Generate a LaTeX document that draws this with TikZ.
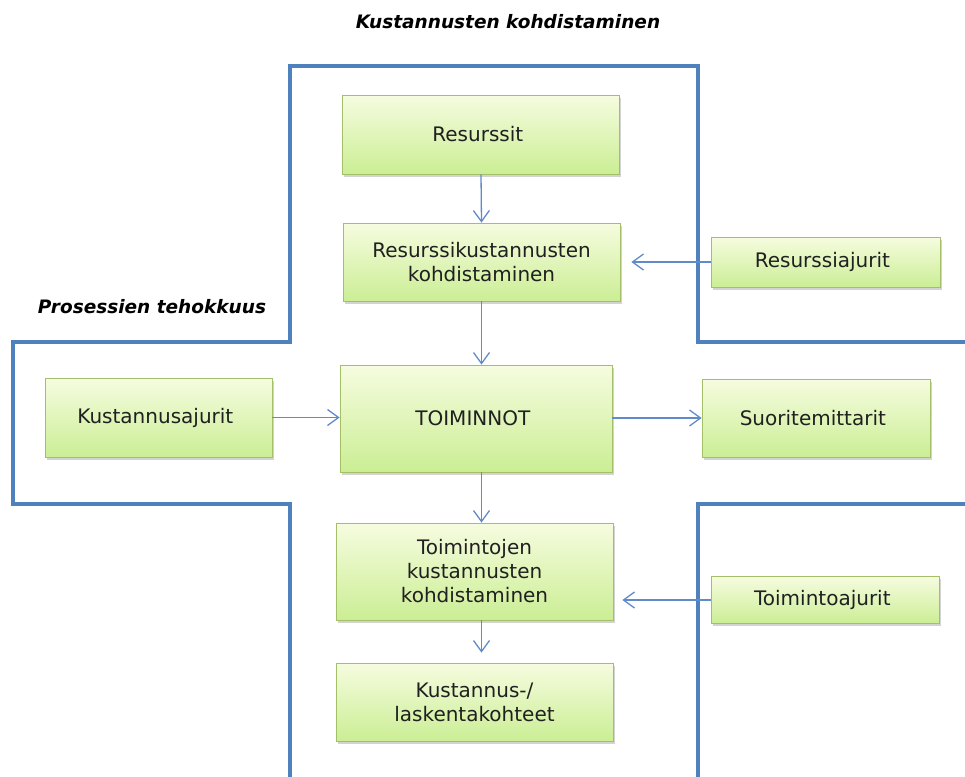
\documentclass[tikz,border=0pt]{standalone}
\usepackage{fontspec}
\setmainfont{DejaVu Sans}
\usetikzlibrary{arrows.meta,shadows}

\definecolor{frameblue}{HTML}{4F81BD}
\definecolor{arrowblue}{HTML}{5F8BC8}
\definecolor{boxtop}{HTML}{F6FCE0}
\definecolor{boxbottom}{HTML}{CBEE94}
\definecolor{boxedge}{HTML}{A3BF68}
\definecolor{boxtext}{HTML}{202020}

\tikzset{
  box/.style={draw=boxedge, line width=0.8pt, top color=boxtop, bottom color=boxbottom,
    text=boxtext, align=center, inner sep=2pt, font=\fontsize{20}{24}\selectfont,
    drop shadow={shadow xshift=1.5pt, shadow yshift=-2.5pt, opacity=0.35}},
  feed/.style={draw=arrowblue, line width=1.3pt,
    -{Straight Barb[length=11pt,width=16pt,line width=1.3pt]}},
  frame/.style={draw=frameblue, line width=3.6pt},
  heading/.style={font=\fontsize{18.5}{22}\selectfont\bfseries\itshape, text=black}
}

\begin{document}
\begin{tikzpicture}[x=1pt,y=-1pt]
            \useasboundingbox (0,0) rectangle (965,776);
            {
            
            % Drawing the cross frame
            \draw [frame] (290,778) -- (290,504) -- (13,504) -- (13,342) -- (290,342) -- (290,66) -- (698,66) -- (698,342) -- (967,342);%
            \draw [frame] (967,504) -- (698,504) -- (698,778);%
            
            % Marking headings
            \draw (508,22) node [heading] (kohdistus) { Kustannusten kohdistaminen };%
            \draw (152,307) node [heading] (tehokkuus) { Prosessien tehokkuus };%
            
            % Drawing boxes of the middle column
            \draw (481,134.5) node [box, minimum width=277pt, minimum height=79pt] (resurssit) { Resurssit };%
            \draw (481.5,262) node [box, minimum width=277pt, minimum height=78pt] (reskoh) { Resurssikustannusten\\kohdistaminen };%
            \draw (476,418.5) node [box, minimum width=272pt, minimum height=107pt] (toiminnot) { TOIMINNOT };%
            \draw (474.5,571.5) node [box, minimum width=277pt, minimum height=97pt] (toimkoh) { Toimintojen\\kustannusten\\kohdistaminen };%
            \draw (474.5,702) node [box, minimum width=277pt, minimum height=78pt] (kohteet) { Kustannus-/\\laskentakohteet };%
            
            % Drawing side boxes
            \draw (825.5,262) node [box, minimum width=229pt, minimum height=50pt] (resajurit) { Resurssiajurit };%
            \draw (158.5,417.5) node [box, minimum width=227pt, minimum height=79pt] (kustajurit) { Kustannusajurit };%
            \draw (816,418) node [box, minimum width=228pt, minimum height=78pt] (mittarit) { Suoritemittarit };%
            \draw (825.5,600) node [box, minimum width=228pt, minimum height=47pt] (toimajurit) { Toimintoajurit };%
            
            % Drawing arrows down the column
            \draw [feed] (resurssit.south) -- (reskoh.north);%
            \draw [feed] (reskoh.south) -- (reskoh.south |- toiminnot.north);%
            \draw [feed] (toiminnot.south -| reskoh.south) -- (toimkoh.north -| reskoh.south);%
            \draw [feed, shorten >=10pt] (toimkoh.south -| reskoh.south) -- (kohteet.north -| reskoh.south);%
            
            % Drawing arrows from the sides
            \draw [feed, shorten >=11pt] (resajurit.west) -- (reskoh.east |- resajurit.west);%
            \draw [feed] (kustajurit.east) -- (toiminnot.west |- kustajurit.east);%
            \draw [feed] (toiminnot.east |- mittarit.west) -- (mittarit.west);%
            \draw [feed, shorten >=9pt] (toimajurit.west) -- (toimkoh.east |- toimajurit.west);%
            }
        \end{tikzpicture}
\end{document}
